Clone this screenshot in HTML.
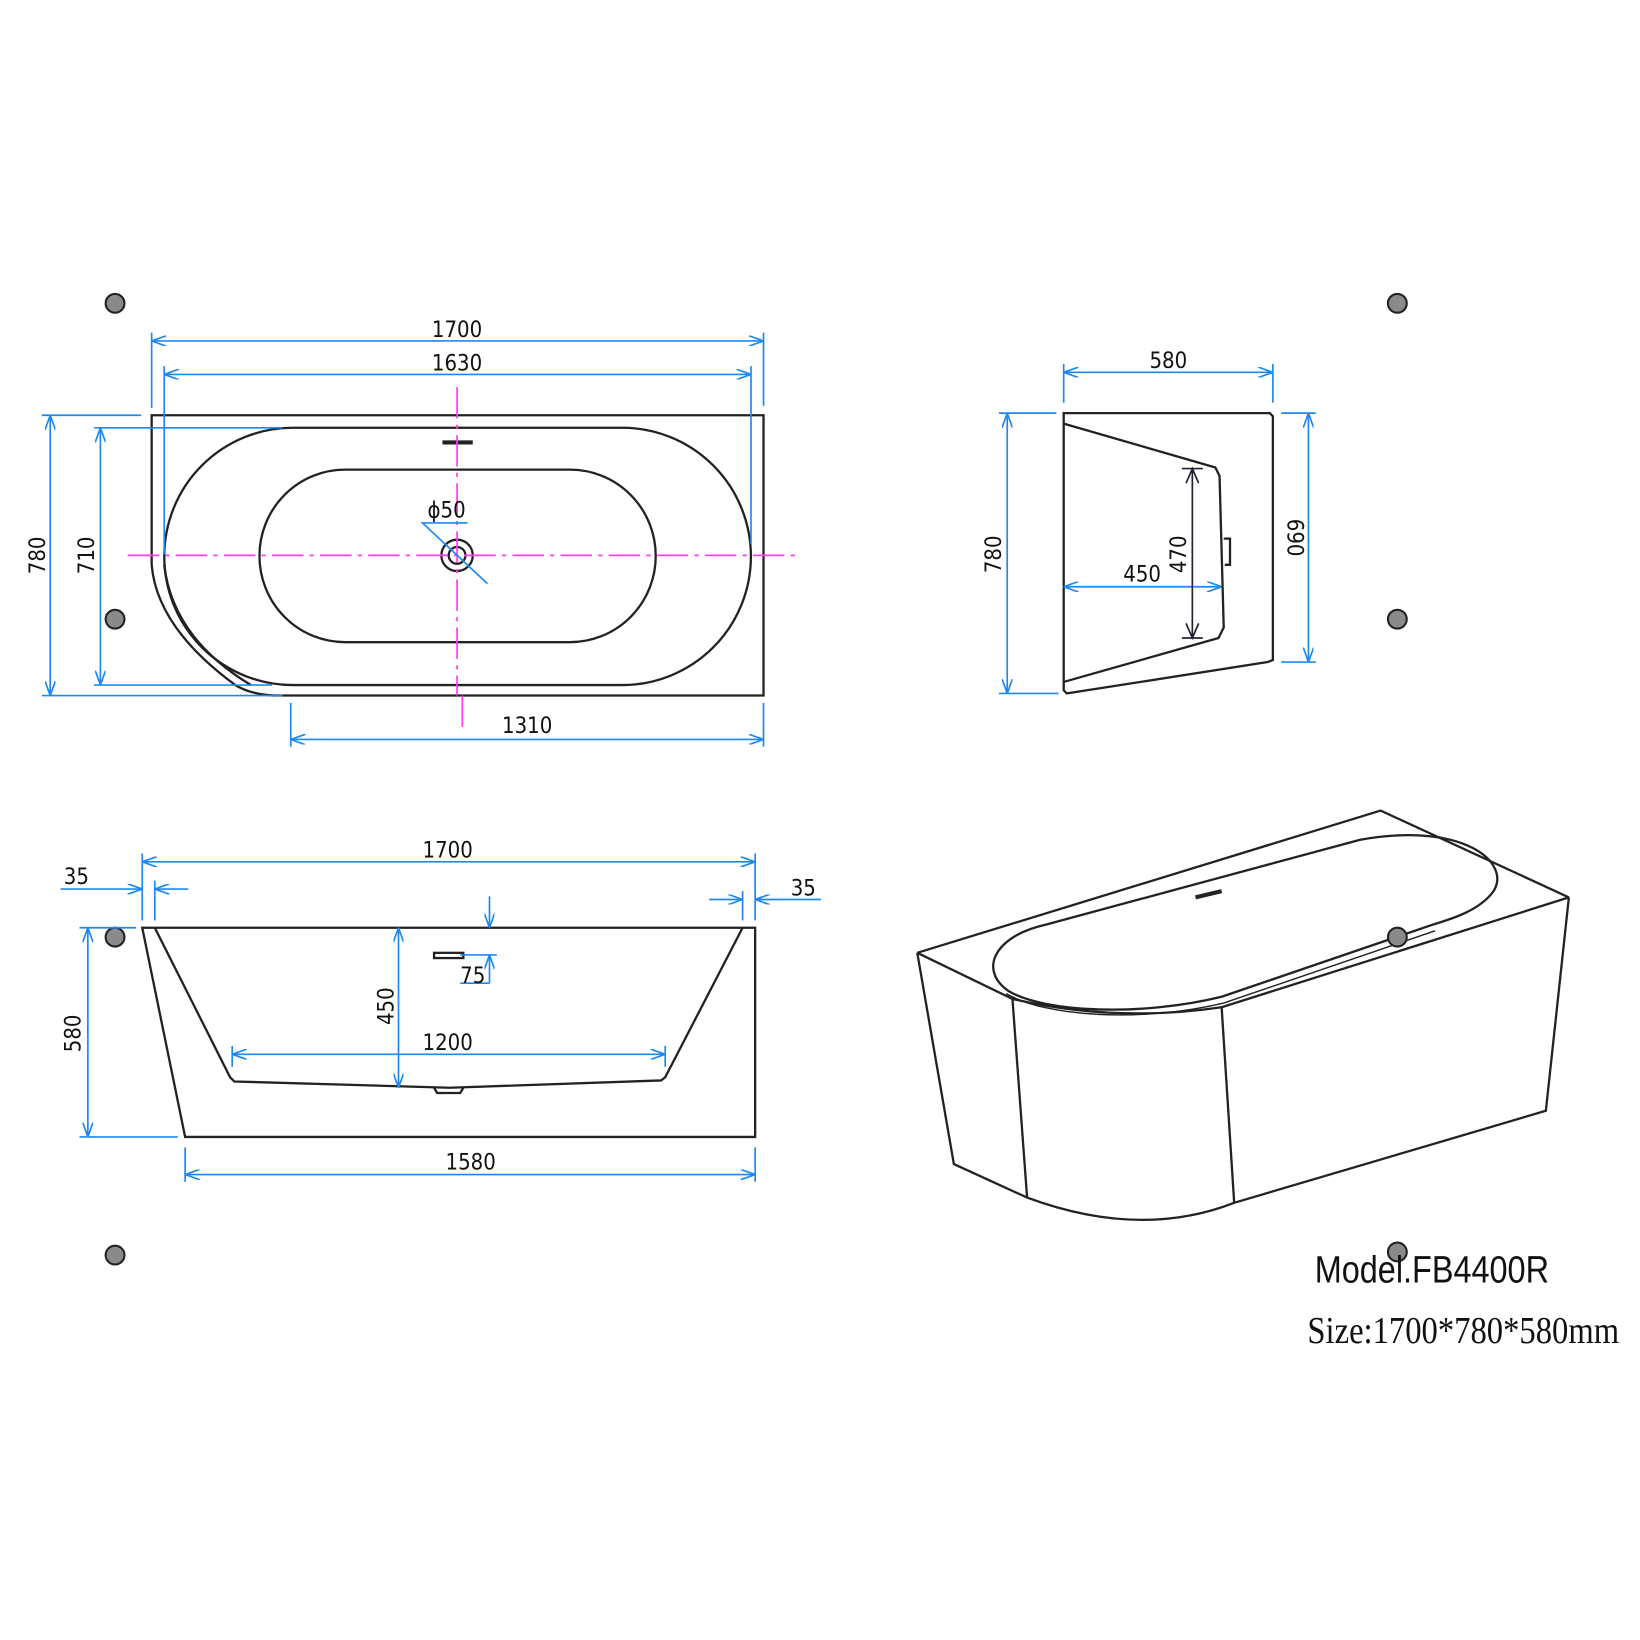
<!DOCTYPE html>
<html><head><meta charset="utf-8"><style>
html,body{margin:0;padding:0;background:#fff}
svg{display:block}
text{font-family:"DejaVu Sans Condensed","Liberation Sans Narrow","Liberation Sans",sans-serif;fill:#111}
</style></head><body>
<svg width="1640" height="1640" viewBox="0 0 1568 1568" xmlns="http://www.w3.org/2000/svg">
<defs>
<marker id="a" viewBox="0 0 14 10" refX="14" refY="5" markerWidth="14" markerHeight="10" markerUnits="userSpaceOnUse" orient="auto-start-reverse">
<polyline points="0,0 14,5 0,10" fill="none" stroke="#1e88f0" stroke-width="1.6"/>
</marker>
</defs>
<rect width="1568" height="1568" fill="#fff"/>

<!-- dots -->
<g fill="#8a8a8a" stroke="#222" stroke-width="2">
<circle cx="110" cy="290" r="9"/><circle cx="110" cy="592" r="9"/><circle cx="110" cy="896" r="9"/><circle cx="110" cy="1200" r="9"/>
<circle cx="1336" cy="290" r="9"/><circle cx="1336" cy="592" r="9"/><circle cx="1336" cy="1197" r="9"/>
</g>

<!-- TOP VIEW -->
<g fill="none" stroke="#222" stroke-width="2.2">
<path d="M145,397 H730 V665 H262 Q240,664 225,655 Q150,600 145,540 Z"/>
<path d="M280,409 H595 A123,123 0 0 1 595,655 H280 A123,123 0 0 1 280,409 Z"/>
<path d="M157,540 Q165,610 240,655"/>
<path d="M330,449 H545 A82,82.5 0 0 1 545,614 H330 A82,82.5 0 0 1 330,449 Z"/>
<circle cx="437" cy="531" r="15"/>
<circle cx="437" cy="531" r="8"/>
</g>
<line x1="423" y1="423" x2="452" y2="423" stroke="#222" stroke-width="4"/>
<g stroke="#ff3cf0" stroke-width="1.6" stroke-dasharray="30 6 4 6">
<line x1="122" y1="531" x2="762" y2="531"/>
<line x1="437" y1="370" x2="437" y2="665"/>
<line x1="442" y1="665" x2="442" y2="700"/>
</g>
<g stroke="#1e88f0" stroke-width="1.6" fill="none">
<line x1="145" y1="326" x2="730" y2="326" marker-start="url(#a)" marker-end="url(#a)"/>
<line x1="145" y1="318" x2="145" y2="390"/><line x1="730" y1="318" x2="730" y2="388"/>
<line x1="157" y1="358" x2="718" y2="358" marker-start="url(#a)" marker-end="url(#a)"/>
<line x1="157" y1="350" x2="157" y2="530"/><line x1="718" y1="350" x2="718" y2="520"/>
<line x1="48" y1="397" x2="48" y2="665" marker-start="url(#a)" marker-end="url(#a)"/>
<line x1="40" y1="397" x2="135" y2="397"/><line x1="40" y1="665" x2="270" y2="665"/>
<line x1="96" y1="409" x2="96" y2="655" marker-start="url(#a)" marker-end="url(#a)"/>
<line x1="90" y1="409" x2="270" y2="409"/><line x1="90" y1="655" x2="260" y2="655"/>
<line x1="278" y1="707" x2="730" y2="707" marker-start="url(#a)" marker-end="url(#a)"/>
<line x1="278" y1="672" x2="278" y2="714"/><line x1="730" y1="672" x2="730" y2="714"/>
<polyline points="447,500 404,500 466,558"/>
</g>
<text x="437" y="322" font-size="21" text-anchor="middle">1700</text>
<text x="437" y="354" font-size="21" text-anchor="middle">1630</text>
<text x="427" y="495" font-size="21" text-anchor="middle">ϕ50</text>
<text x="504" y="701" font-size="21" text-anchor="middle">1310</text>
<text transform="translate(43,531) rotate(-90)" font-size="21" text-anchor="middle">780</text>
<text transform="translate(90,531) rotate(-90)" font-size="21" text-anchor="middle">710</text>

<!-- SIDE VIEW -->
<g fill="none" stroke="#222" stroke-width="2.2">
<path d="M1017,395 H1214 L1217,398 V631 L1212,633 L1020,663 L1017,660 Z"/>
<path d="M1017,405 L1162,447 L1166,455 L1170,600 L1165,610 L1017,652"/>
<path d="M1170,515 H1176 V540 H1171"/>
</g>
<g stroke="#1e88f0" stroke-width="1.6" fill="none">
<line x1="1017" y1="356" x2="1217" y2="356" marker-start="url(#a)" marker-end="url(#a)"/>
<line x1="1017" y1="348" x2="1017" y2="385"/><line x1="1217" y1="348" x2="1217" y2="385"/>
<line x1="963" y1="395" x2="963" y2="663" marker-start="url(#a)" marker-end="url(#a)"/>
<line x1="955" y1="395" x2="1010" y2="395"/><line x1="955" y1="663" x2="1012" y2="663"/>
<line x1="1251" y1="395" x2="1251" y2="633" marker-start="url(#a)" marker-end="url(#a)"/>
<line x1="1225" y1="395" x2="1258" y2="395"/><line x1="1225" y1="633" x2="1258" y2="633"/>
<line x1="1017" y1="561" x2="1168" y2="561" marker-start="url(#a)" marker-end="url(#a)"/>
</g>
<g stroke="#223" stroke-width="1.6" fill="none">
<line x1="1140" y1="448" x2="1140" y2="610"/>
<polyline points="1134,462 1140,448 1146,462"/><polyline points="1134,596 1140,610 1146,596"/>
<line x1="1130" y1="448" x2="1150" y2="448"/><line x1="1130" y1="610" x2="1150" y2="610"/>
</g>
<text x="1117" y="352" font-size="21" text-anchor="middle">580</text>
<text x="1092" y="556" font-size="21" text-anchor="middle">450</text>
<text transform="translate(1134,530) rotate(-90)" font-size="21" text-anchor="middle">470</text>
<text transform="translate(957,530) rotate(-90)" font-size="21" text-anchor="middle">780</text>
<text transform="translate(1231,514) rotate(90)" font-size="21" text-anchor="middle">690</text>

<!-- FRONT VIEW -->
<g fill="none" stroke="#222" stroke-width="2.2">
<path d="M136,887 H722 V1087 H177 Z"/>
<path d="M148,887 L220,1030 L224,1034 L430,1040 L632,1033 L636,1030 L710,887"/>
<path d="M415,1040 L418,1045 H440 L443,1040"/>
<rect x="415" y="911" width="28" height="5"/>
</g>
<g stroke="#1e88f0" stroke-width="1.6" fill="none">
<line x1="136" y1="824" x2="722" y2="824" marker-start="url(#a)" marker-end="url(#a)"/>
<line x1="136" y1="816" x2="136" y2="880"/><line x1="722" y1="816" x2="722" y2="880"/>
<line x1="58" y1="850" x2="136" y2="850" marker-end="url(#a)"/>
<line x1="180" y1="850" x2="148" y2="850" marker-end="url(#a)"/>
<line x1="148" y1="842" x2="148" y2="880"/>
<line x1="678" y1="860" x2="710" y2="860" marker-end="url(#a)"/>
<line x1="785" y1="860" x2="722" y2="860" marker-end="url(#a)"/>
<line x1="710" y1="852" x2="710" y2="880"/>
<line x1="84" y1="887" x2="84" y2="1087" marker-start="url(#a)" marker-end="url(#a)"/>
<line x1="76" y1="887" x2="130" y2="887"/><line x1="76" y1="1087" x2="170" y2="1087"/>
<line x1="381" y1="887" x2="381" y2="1040" marker-start="url(#a)" marker-end="url(#a)"/>
<line x1="468" y1="857" x2="468" y2="887" marker-end="url(#a)"/>
<line x1="468" y1="940" x2="468" y2="913" marker-end="url(#a)"/>
<line x1="440" y1="913" x2="475" y2="913"/><line x1="440" y1="940" x2="468" y2="940"/>
<line x1="222" y1="1008" x2="636" y2="1008" marker-start="url(#a)" marker-end="url(#a)"/>
<line x1="222" y1="1000" x2="222" y2="1020"/><line x1="636" y1="1000" x2="636" y2="1020"/>
<line x1="177" y1="1123" x2="722" y2="1123" marker-start="url(#a)" marker-end="url(#a)"/>
<line x1="177" y1="1097" x2="177" y2="1130"/><line x1="722" y1="1097" x2="722" y2="1130"/>
</g>
<text x="428" y="820" font-size="21" text-anchor="middle">1700</text>
<text x="73" y="845" font-size="21" text-anchor="middle">35</text>
<text x="768" y="856" font-size="21" text-anchor="middle">35</text>
<text x="452" y="940" font-size="21" text-anchor="middle">75</text>
<text x="428" y="1004" font-size="21" text-anchor="middle">1200</text>
<text x="450" y="1118" font-size="21" text-anchor="middle">1580</text>
<text transform="translate(77,988) rotate(-90)" font-size="21" text-anchor="middle">580</text>
<text transform="translate(376,962) rotate(-90)" font-size="21" text-anchor="middle">450</text>

<!-- 3D VIEW -->
<g fill="none" stroke="#222" stroke-width="2.2">
<path d="M877,911 L1320,775 L1500,858"/>
<path d="M877,911 L968,955 Q1065,978 1168,963 L1500,858"/>
<path d="M1000,884 L1300,803 C1400,785 1445,825 1428,852 C1415,870 1390,878 1370,884 L1168,953 C1090,972 1000,968 965,948 C935,928 950,895 1000,884 Z"/>
<path d="M962,950 C1000,972 1090,978 1170,959 L1372,890" stroke-width="1.4"/>
<path d="M877,911 L912,1113 L982,1145 Q1090,1185 1180,1150 L1478,1062 L1500,858"/>
<line x1="968" y1="955" x2="982" y2="1145"/>
<line x1="1168" y1="963" x2="1180" y2="1150"/>
</g>
<line x1="1143" y1="858" x2="1168" y2="852" stroke="#222" stroke-width="4"/>
<circle cx="1336" cy="896" r="9" fill="#8a8a8a" stroke="#222" stroke-width="2"/>

<text x="1257" y="1226" font-size="36" textLength="224" lengthAdjust="spacingAndGlyphs" style="font-family:'Liberation Sans',sans-serif">Model.FB4400R</text>
<text x="1250" y="1284" font-size="36" textLength="298" lengthAdjust="spacingAndGlyphs" style="font-family:'Liberation Serif',serif">Size:1700*780*580mm</text>
</svg>
</body></html>
